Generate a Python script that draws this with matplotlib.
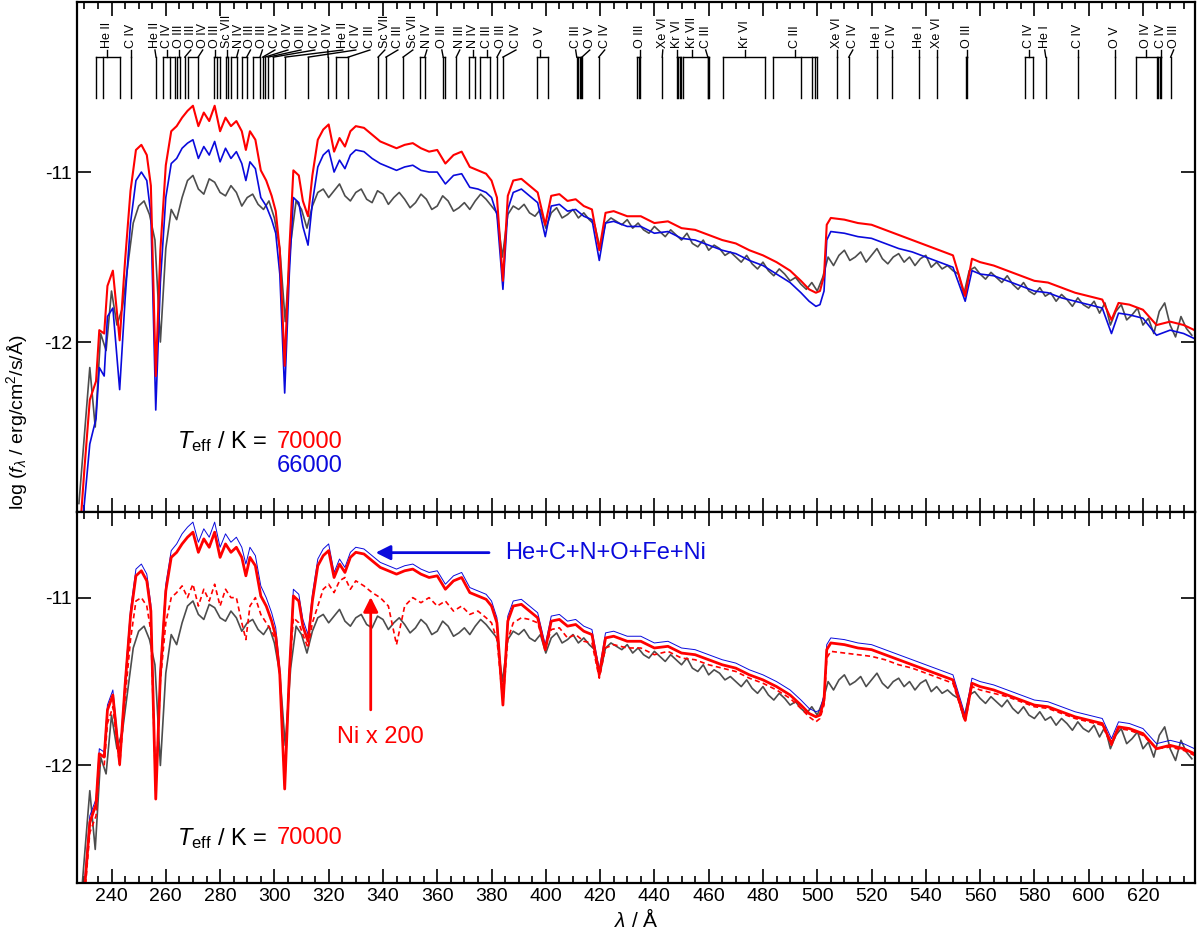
import matplotlib.pyplot as plt
import matplotlib.transforms as mtransforms
from matplotlib.ticker import MultipleLocator

plt.rcParams["font.family"] = ["Liberation Sans", "DejaVu Sans"]
plt.rcParams["mathtext.fontset"] = "custom"
plt.rcParams["mathtext.rm"] = "Liberation Sans"
plt.rcParams["mathtext.it"] = "Liberation Sans:italic"
plt.rcParams["mathtext.bf"] = "Liberation Sans:bold"

RED = "#ff0000"
BLUE = "#0a0adc"
GRAY = "#4d4d4d"

# observed spectrum, 2 A steps from 228 A
obs_wave = list(range(228, 640, 2))
obs_flux = [
    -12.95, -12.55, -12.15, -12.5, -11.95, -12.05, -11.7, -11.9, -11.8, -11.55,
    -11.3, -11.2, -11.17, -11.25, -11.4, -12.0, -11.45, -11.22, -11.28, -11.15,
    -11.05, -11.02, -11.1, -11.13, -11.04, -11.06, -11.12, -11.14, -11.08, -11.12,
    -11.2, -11.15, -11.13, -11.19, -11.22, -11.17, -11.27, -11.45, -11.88, -11.42,
    -11.17, -11.22, -11.33, -11.2, -11.12, -11.1, -11.15, -11.11, -11.07, -11.14,
    -11.17, -11.12, -11.1, -11.16, -11.18, -11.11, -11.13, -11.19, -11.15, -11.12,
    -11.16, -11.21, -11.18, -11.13, -11.16, -11.22, -11.2, -11.14, -11.17, -11.23,
    -11.21, -11.18, -11.22, -11.17, -11.13, -11.16, -11.2, -11.24, -11.5, -11.25,
    -11.2, -11.22, -11.19, -11.24, -11.26, -11.22, -11.33, -11.24, -11.21, -11.27,
    -11.25, -11.22, -11.27, -11.24, -11.28, -11.31, -11.45, -11.3, -11.27, -11.29,
    -11.31, -11.28, -11.33, -11.3, -11.34, -11.36, -11.32, -11.35, -11.38, -11.34,
    -11.37, -11.4, -11.36, -11.42, -11.44, -11.4, -11.46, -11.43, -11.45, -11.49,
    -11.47, -11.5, -11.53, -11.49, -11.54, -11.57, -11.53, -11.58, -11.61, -11.57,
    -11.6, -11.64, -11.62, -11.66, -11.69, -11.65, -11.7, -11.62, -11.5, -11.55,
    -11.49, -11.46, -11.52, -11.5, -11.47, -11.53, -11.49, -11.45, -11.51, -11.54,
    -11.5, -11.48, -11.53, -11.5, -11.55, -11.51, -11.49, -11.56, -11.53, -11.57,
    -11.55, -11.58, -11.6, -11.72, -11.58, -11.56, -11.6, -11.63, -11.59, -11.62,
    -11.65, -11.61, -11.66, -11.69, -11.65, -11.7, -11.72, -11.68, -11.73, -11.71,
    -11.76, -11.72, -11.75, -11.79, -11.74, -11.78, -11.8, -11.76, -11.83, -11.77,
    -11.9, -11.82, -11.78, -11.87, -11.84, -11.8, -11.9, -11.86, -11.95, -11.82,
    -11.77, -11.9, -11.97, -11.85, -11.92, -11.96,
]

# model wavelength grid
model_wave = [
    228, 230, 232, 234.3, 235.5, 237.3, 238.5, 240.5, 243.0, 245,
    247, 249, 251, 253, 254.5, 256.3, 258, 260, 262, 264,
    266, 268, 270, 272, 274, 276, 278, 280, 282, 284,
    286, 288, 289.5, 291, 293, 295, 297, 299, 300.5, 302,
    303.8, 305.5, 307, 309, 310.5, 312.4, 314, 316, 318, 320,
    322, 324, 326, 328, 330, 333, 336, 339, 342, 345,
    348, 351, 354, 357, 360, 363, 366, 369, 372, 375,
    378, 380, 382, 384.2, 386, 388, 391, 394, 397, 399.8,
    402, 405, 408, 411, 414, 417, 419.7, 422, 425, 430,
    435, 440, 445, 450, 455, 460, 465, 470, 475, 480,
    485, 490, 494, 497, 499.5, 501, 502.5, 503.5, 505, 510,
    515, 520, 525, 530, 535, 540, 545, 550, 554.5, 557,
    560, 565, 570, 575, 580, 585, 590, 595, 600, 605,
    608.4, 611, 615, 620, 625, 630, 635, 639,
]

# Teff = 70000 K model
model_70000 = [
    -13.2, -12.75, -12.34, -12.23, -11.93, -11.95, -11.67, -11.58, -11.99, -11.52,
    -11.11, -10.87, -10.84, -10.90, -11.08, -12.20, -11.46, -10.96, -10.76, -10.73,
    -10.68, -10.64, -10.61, -10.73, -10.65, -10.70, -10.61, -10.76, -10.68, -10.73,
    -10.70, -10.76, -10.87, -10.76, -10.81, -10.99, -11.05, -11.14, -11.23, -11.46,
    -12.14, -11.46, -10.99, -11.02, -11.17, -11.26, -11.02, -10.81, -10.75, -10.72,
    -10.88, -10.80, -10.85, -10.76, -10.73, -10.74, -10.78, -10.82, -10.84, -10.86,
    -10.84, -10.83, -10.86, -10.88, -10.87, -10.95, -10.90, -10.88, -10.97, -10.99,
    -11.01, -11.05, -11.15, -11.64, -11.14, -11.05, -11.04, -11.08, -11.12, -11.31,
    -11.14, -11.13, -11.17, -11.16, -11.20, -11.22, -11.46, -11.24, -11.23, -11.26,
    -11.26, -11.30, -11.29, -11.33, -11.34, -11.37, -11.40, -11.42, -11.46, -11.49,
    -11.53, -11.58, -11.64, -11.69, -11.71, -11.70, -11.61, -11.31, -11.27, -11.28,
    -11.30, -11.31, -11.34, -11.37, -11.40, -11.43, -11.46, -11.49, -11.73, -11.51,
    -11.53, -11.55, -11.58, -11.61, -11.64, -11.65, -11.68, -11.71, -11.73, -11.75,
    -11.87, -11.77, -11.78, -11.81, -11.90, -11.88, -11.90, -11.93,
]

# Teff = 66000 K model
model_66000 = [
    -13.3, -12.95, -12.6, -12.45, -12.15, -12.2, -11.85, -11.8, -12.28, -11.75,
    -11.3, -11.05, -11.0, -11.05, -11.25, -12.40, -11.65, -11.15, -10.95, -10.92,
    -10.86, -10.83, -10.81, -10.92, -10.85, -10.90, -10.82, -10.94, -10.86, -10.92,
    -10.88, -10.95, -11.05, -10.94, -10.98, -11.15, -11.2, -11.28, -11.36, -11.6,
    -12.30, -11.6, -11.15, -11.18, -11.32, -11.43, -11.18, -10.97, -10.9, -10.87,
    -11.0, -10.93, -10.98, -10.9, -10.87, -10.88, -10.92, -10.95, -10.97, -10.99,
    -10.97, -10.96, -10.99, -11.0, -11.0, -11.07, -11.02, -11.01, -11.09, -11.1,
    -11.12, -11.15, -11.25, -11.69, -11.22, -11.12, -11.1, -11.14, -11.18, -11.38,
    -11.2, -11.19, -11.23, -11.22, -11.26, -11.28, -11.52, -11.3, -11.29, -11.32,
    -11.32, -11.36, -11.35, -11.39, -11.4, -11.43, -11.46, -11.48, -11.52, -11.55,
    -11.6, -11.65, -11.71, -11.76, -11.79, -11.78, -11.7, -11.4, -11.35, -11.36,
    -11.38, -11.39, -11.42, -11.45, -11.47, -11.5, -11.53, -11.56, -11.76, -11.58,
    -11.6, -11.61, -11.64, -11.67, -11.7, -11.71, -11.74, -11.76, -11.78, -11.8,
    -11.95, -11.83, -11.84, -11.86, -11.96, -11.93, -11.95, -11.98,
]

# He+C+N+O+Fe+Ni model, 70000 K
model_hecnofeni = [
    -13.15, -12.7, -12.3, -12.2, -11.9, -11.92, -11.64, -11.55, -11.96, -11.49,
    -11.07, -10.83, -10.8, -10.86, -11.04, -12.15, -11.42, -10.92, -10.72, -10.68,
    -10.62, -10.58, -10.55, -10.67, -10.59, -10.64, -10.55, -10.7, -10.62, -10.67,
    -10.64, -10.7, -10.8, -10.7, -10.75, -10.93, -11.0, -11.09, -11.18, -11.42,
    -12.1, -11.42, -10.95, -10.98, -11.13, -11.22, -10.98, -10.77, -10.71, -10.68,
    -10.85, -10.77, -10.82, -10.73, -10.7, -10.71, -10.75, -10.79, -10.81, -10.83,
    -10.81, -10.8, -10.83, -10.85, -10.84, -10.92, -10.87, -10.85, -10.94, -10.96,
    -10.98, -11.02, -11.12, -11.62, -11.11, -11.02, -11.01, -11.05, -11.09, -11.28,
    -11.11, -11.1, -11.14, -11.13, -11.17, -11.19, -11.43, -11.21, -11.2, -11.23,
    -11.23, -11.27, -11.26, -11.3, -11.31, -11.34, -11.37, -11.39, -11.43, -11.46,
    -11.5, -11.55, -11.61, -11.66, -11.68, -11.67, -11.58, -11.28, -11.24, -11.25,
    -11.27, -11.28, -11.31, -11.34, -11.37, -11.4, -11.43, -11.46, -11.7, -11.48,
    -11.5, -11.52, -11.55, -11.58, -11.61, -11.62, -11.65, -11.68, -11.7, -11.72,
    -11.84, -11.74, -11.75, -11.78, -11.87, -11.85, -11.87, -11.9,
]

# Ni x 200 model, 70000 K
model_ni200 = [
    -13.2, -12.8, -12.4, -12.3, -12.0, -12.0, -11.75, -11.65, -12.0, -11.6,
    -11.25, -11.02, -11.0, -11.05, -11.2, -12.15, -11.5, -11.15, -11.0, -10.97,
    -10.93, -11.0, -10.92, -11.05, -10.95, -11.02, -10.92, -11.05, -10.95, -11.0,
    -11.0, -11.15, -11.25, -11.05, -11.0, -11.1, -11.15, -11.2, -11.25, -11.45,
    -12.12, -11.45, -11.12, -11.15, -11.22, -11.3, -11.15, -11.05, -10.95, -10.92,
    -10.97, -10.9, -10.88, -10.95, -10.9, -10.93, -10.97, -11.0, -11.05, -11.28,
    -11.05, -11.0, -11.03, -11.0, -11.05, -11.02, -11.08, -11.05, -11.1, -11.08,
    -11.12, -11.15, -11.25, -11.62, -11.25, -11.15, -11.12, -11.13, -11.15, -11.3,
    -11.19, -11.18, -11.24, -11.22, -11.26, -11.27, -11.48, -11.3, -11.28, -11.3,
    -11.3, -11.34, -11.32, -11.36, -11.37, -11.4, -11.42, -11.44, -11.48, -11.51,
    -11.55, -11.6, -11.66, -11.71, -11.74, -11.72, -11.64, -11.36, -11.32, -11.33,
    -11.34, -11.35, -11.37, -11.4, -11.42, -11.45, -11.48, -11.51, -11.74, -11.53,
    -11.55, -11.57, -11.59, -11.62, -11.65, -11.66, -11.69, -11.72, -11.74, -11.76,
    -11.88, -11.78, -11.79, -11.82, -11.9, -11.89, -11.91, -11.94,
]

# line identifications: ion, label position, line wavelengths
ion_names = [
    "He II", "C IV", "He II", "C IV", "O III", "O III", "O IV", "O III", "Sc VII", "N IV",
    "O III", "O III", "C IV", "O IV", "O III", "C IV", "O IV", "He II", "C IV", "C III",
    "Sc VII", "C III", "Sc VII", "N IV", "O III", "N III", "N IV", "C III", "O III", "C IV",
    "O V", "C III", "O V", "C IV", "O III", "Xe VI", "Kr VI", "Kr VII", "C III", "Kr VI",
    "C III", "Xe VI", "C IV", "He I", "C IV", "He I", "Xe VI", "O III", "C IV", "He I",
    "C IV", "O V", "O IV", "C IV", "O III",
]
ion_label_pos = [
    238.3, 247.2, 256.0, 260.4, 264.8, 269.2, 273.6, 278.0, 282.4, 286.8,
    291.2, 295.6, 300.2, 305.0, 309.8, 314.9, 319.7, 325.2, 330.0, 335.2,
    340.7, 345.5, 351.0, 356.2, 361.7, 368.3, 373.1, 378.3, 383.4, 389.0,
    397.8, 411.0, 416.2, 421.7, 434.6, 443.1, 448.2, 453.8, 458.9, 473.3,
    491.7, 507.2, 513.1, 521.9, 527.4, 537.4, 544.0, 555.1, 577.9, 583.8,
    595.9, 609.6, 621.3, 626.5, 631.3,
]
ion_lines = [
    [234.3, 237.0, 243.1], [247.2], [256.4], [259.1, 261.5, 263.4], [264.3, 265.2],
    [267.0], [268.3, 271.9], [277.7, 278.7, 279.9], [282.0, 283.0], [284.2, 286.1],
    [287.9, 289.8], [292.2, 294.7], [295.7], [296.5], [297.7],
    [299.6], [319.8], [303.9], [312.5], [322.7, 327.2],
    [338.2], [341.1], [347.4], [353.6, 355.4], [362.2, 362.8],
    [367.0], [371.6, 373.9], [375.7, 379.4], [382.0], [384.2],
    [396.7, 400.7], [411.4, 412.0, 412.5, 412.9], [413.3], [419.5], [433.5, 434.3, 434.8],
    [442.9], [448.2, 448.8, 449.4, 449.9], [450.5, 459.7], [459.7, 460.2], [465.2, 480.7],
    [483.6, 493.9, 498.0, 499.1, 499.8], [507.2], [511.6], [521.9], [527.4],
    [537.4], [544.0], [554.7, 555.1], [576.4, 579.4], [584.2],
    [595.9], [609.6], [617.3, 625.0], [625.4, 626.1, 626.8], [630.2],
]


def style_axes(ax, ylim):
    ax.set_xlim(227.3, 639.2)
    ax.set_ylim(*ylim)
    ax.set_yticks([-12, -11])
    ax.set_yticklabels(["-12", "-11"])
    ax.xaxis.set_major_locator(MultipleLocator(20))
    ax.xaxis.set_minor_locator(MultipleLocator(5))
    ax.tick_params(which="both", direction="in", top=True, right=True, width=1.2, labelsize=14)
    ax.tick_params(which="major", length=10)
    ax.tick_params(which="minor", length=5)
    ax.tick_params(axis="y", which="minor", left=False, right=False)
    for sp in ax.spines.values():
        sp.set_linewidth(1.6)


fig = plt.figure(figsize=(12, 9.33), dpi=100)
ax1 = fig.add_axes([0.0642, 0.4512, 0.9317, 0.5466])
ax2 = fig.add_axes([0.0642, 0.0536, 0.9317, 0.3976])

# top panel: two temperatures
ax1.plot(obs_wave, obs_flux, color=GRAY, lw=1.2)
ax1.plot(model_wave, model_66000, color=BLUE, lw=1.2)
ax1.plot(model_wave, model_70000, color=RED, lw=1.5)
style_axes(ax1, (-13.0, -10.0))
ax1.tick_params(labelbottom=False)

trans = mtransforms.blended_transform_factory(ax1.transData, ax1.transAxes)
Y_BOT, Y_BAR, Y_LAB = 0.811, 0.892, 0.906
for ion, xl, lines in zip(ion_names, ion_label_pos, ion_lines):
    for w in lines:
        ax1.plot([w, w], [Y_BOT, Y_BAR], color="k", lw=1.0, transform=trans)
    lo, hi = min(lines), max(lines)
    if hi > lo:
        ax1.plot([lo, hi], [Y_BAR, Y_BAR], color="k", lw=1.0, transform=trans)
    xc = min(max(xl, lo), hi)
    ax1.plot([xc, xl], [Y_BAR, Y_LAB], color="k", lw=1.0, transform=trans)
    ax1.text(xl, Y_LAB + 0.004, ion, rotation=90, ha="center", va="bottom",
             fontsize=9, transform=trans)

ax1.text(0.170, 0.138, r"$T_{\rm eff}$ / K =", ha="right", va="center",
         fontsize=17, transform=ax1.transAxes)
ax1.text(0.179, 0.138, "70000", color=RED, ha="left", va="center",
         fontsize=17, transform=ax1.transAxes)
ax1.text(0.179, 0.091, "66000", color=BLUE, ha="left", va="center",
         fontsize=17, transform=ax1.transAxes)

# bottom panel: abundance tests
ax2.plot(obs_wave, obs_flux, color=GRAY, lw=1.2)
ax2.plot(model_wave, model_ni200, color=RED, lw=1.2, ls=(0, (3, 2)))
ax2.plot(model_wave, model_hecnofeni, color=BLUE, lw=0.7)
ax2.plot(model_wave, model_70000, color=RED, lw=2.0)
style_axes(ax2, (-12.7, -10.49))

ax2.annotate("", xy=(336.3, -10.732), xytext=(380.1, -10.732),
             arrowprops=dict(arrowstyle="-|>", color=BLUE, lw=2, mutation_scale=22))
ax2.text(384.9, -10.732, "He+C+N+O+Fe+Ni", color=BLUE, fontsize=17, ha="left", va="center")
ax2.annotate("", xy=(335.5, -10.98), xytext=(335.5, -11.685),
             arrowprops=dict(arrowstyle="-|>", color=RED, lw=2, mutation_scale=22))
ax2.text(338.9, -11.83, "Ni x 200", color=RED, fontsize=17, ha="center", va="center")

ax2.text(0.170, 0.121, r"$T_{\rm eff}$ / K =", ha="right", va="center",
         fontsize=17, transform=ax2.transAxes)
ax2.text(0.179, 0.121, "70000", color=RED, ha="left", va="center",
         fontsize=17, transform=ax2.transAxes)

ax2.set_xlabel(r"$\lambda$ / Å", fontsize=15, labelpad=2)
fig.text(0.014, 0.547, r"log ($f_\lambda$ / erg/cm$^2$/s/Å)", rotation=90,
         ha="center", va="center", fontsize=14)

fig.savefig("out.png", dpi=100)
